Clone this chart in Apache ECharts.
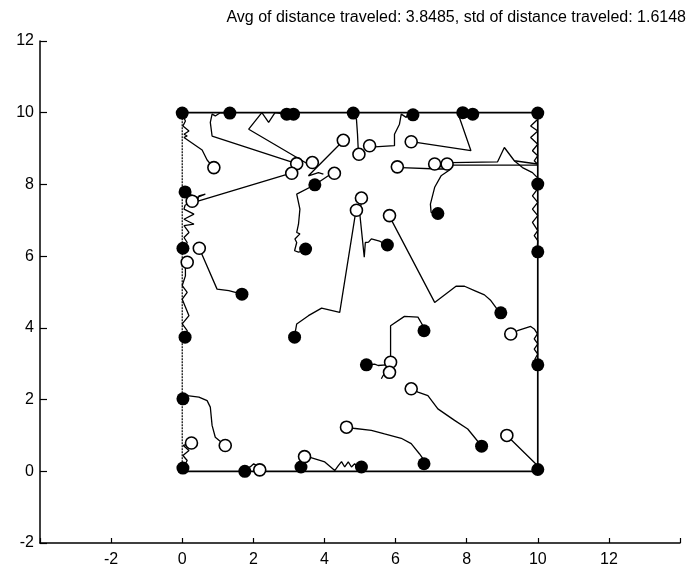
<!DOCTYPE html>
<html><head><meta charset="utf-8">
<script src="https://cdn.jsdelivr.net/npm/echarts@6/dist/echarts.min.js"></script>
<style>html,body{margin:0;padding:0;background:#fff}#c{width:692px;height:572px}</style>
</head><body><div id="c"></div>
<script>
const titleText = 'Avg of distance traveled: 3.8485, std of distance traveled: 1.6148';
const xTicks = [-2, 0, 2, 4, 6, 8, 10, 12];
const yTicks = [-2, 0, 2, 4, 6, 8, 10, 12];
const arena = [[0,10],[10,10],[10,0],[0,0]];
const arenaLeft = [[0,0],[0,10]];

const path1 = [[0.00,9.96],[0.09,9.77],[0.02,9.63],[0.19,9.49],[0.05,9.40],[0.14,9.35],[0.05,9.31],[0.56,8.96],[0.70,8.68],[0.82,8.54]];
const path2 = [[1.34,9.99],[1.07,10.0],[0.93,9.91],[0.84,9.96],[0.79,9.73],[0.84,9.35],[3.13,8.61]];
const path3 = [[2.94,9.96],[2.75,9.98],[2.61,10.0],[2.43,9.73],[2.24,10.0],[1.87,9.54],[3.57,8.55]];
const path4 = [[2.97,8.29],[0.42,7.53],[0.47,7.68],[0.65,7.73],[0.70,7.68],[0.42,7.64],[0.19,7.73],[0.08,7.79]];
const path5 = [[4.43,9.12],[3.55,8.24],[3.83,8.33],[3.97,8.29]];
const path6 = [[4.15,8.27],[3.73,7.99],[3.22,7.73],[3.31,7.31],[3.27,6.89],[3.22,6.66],[3.31,6.62],[3.17,6.48],[3.22,6.38],[3.16,6.15],[3.27,6.11],[3.41,6.15]];
const path8 = [[4.81,9.96],[4.90,9.82],[4.93,9.40],[4.95,8.98]];
const path9 = [[5.41,9.05],[5.97,9.08],[5.97,9.40],[6.11,9.68],[6.16,9.96],[6.30,9.87],[6.35,9.96],[6.49,9.94]];
const path10 = [[6.58,9.17],[8.12,8.94],[7.75,10.0]];
const path11 = [[9.99,9.96],[10.0,9.82],[9.80,9.63],[10.0,9.49],[9.80,9.31],[10.0,9.12],[9.85,8.94],[10.0,8.80],[9.90,8.66],[9.99,8.57]];
const path12 = [[7.56,8.61],[8.87,8.63],[9.06,9.03],[9.10,9.03],[9.34,8.66],[9.99,8.57]];
const path12b = [[7.56,8.54],[9.99,8.54]];
const path13 = [[9.34,8.66],[9.57,8.47],[9.85,8.33],[9.99,8.19],[9.99,8.01]];
const path14 = [[6.16,8.47],[7.19,8.43],[7.56,8.43],[7.28,8.24],[7.10,7.92],[6.98,7.45],[7.00,7.22],[7.19,7.19]];
const path15 = [[4.87,7.17],[4.43,4.43],[3.92,4.55],[3.55,4.34],[3.22,4.11],[3.17,3.83]];
const path16 = [[5.04,7.51],[4.99,7.22],[5.12,5.97],[5.15,6.38],[5.24,6.39],[5.32,6.48],[5.55,6.42],[5.77,6.31]];
const path17 = [[5.83,7.11],[7.10,4.71],[7.70,5.16],[7.94,5.16],[8.22,5.04],[8.50,4.92],[8.68,4.76],[8.82,4.57],[8.96,4.42]];
const path18 = [[5.86,3.04],[5.86,4.06],[6.25,4.32],[6.63,4.30],[6.77,4.06],[6.80,3.92]];
const path19 = [[5.18,2.97],[5.41,2.99],[5.51,2.95],[5.74,2.97],[5.83,2.86],[5.74,2.80],[5.65,2.67],[5.60,2.58]];
const path20 = [[6.44,2.30],[6.63,2.21],[6.91,2.11],[7.19,1.74],[7.66,1.42],[8.03,1.18],[8.22,0.95],[8.42,0.70]];
const path21 = [[4.62,1.23],[4.81,1.20],[5.32,1.14],[5.69,1.04],[6.16,0.92],[6.44,0.77],[6.67,0.49],[6.77,0.35],[6.80,0.21]];
const path22 = [[9.13,1.00],[9.99,0.16],[9.99,0.05]];
const path23 = [[9.24,3.83],[9.43,3.92],[9.80,4.04],[9.90,3.97],[9.99,3.83],[9.90,3.69],[10.0,3.55],[9.90,3.41],[10.0,3.27],[9.92,3.13],[10.0,2.97]];
const path24 = [[0.02,2.02],[0.14,2.11],[0.47,2.07],[0.70,1.97],[0.79,1.79],[0.84,1.28],[0.93,0.95],[1.21,0.72]];
const path25 = [[0.26,0.79],[0.03,0.72],[0.19,0.58],[0.02,0.44],[0.14,0.30],[0.02,0.09]];
const path26 = [[1.76,0.00],[1.77,0.07],[1.91,0.12],[2.01,0.21],[2.10,0.16],[2.18,0.04]];
const path27 = [[3.44,0.41],[3.55,0.40],[4.01,0.26],[4.29,0.02],[4.39,0.16],[4.48,0.27],[4.57,0.12],[4.67,0.26],[4.76,0.12],[4.85,0.21],[4.95,0.12],[5.04,0.12]];
const path28 = [[0.48,6.22],[0.98,5.08],[1.31,5.04],[1.34,4.99],[1.68,4.94]];
const path29 = [[0.14,5.83],[0.09,5.70],[0.09,5.45],[0.00,5.18],[0.14,4.99],[0.00,4.80],[0.19,4.34],[0.00,4.11],[0.14,3.92],[0.08,3.74]];
const path30 = [[0.28,7.53],[0.08,7.42],[0.05,7.31],[0.33,7.17],[0.05,7.03],[0.33,6.89],[0.05,6.85],[0.19,6.66],[0.05,6.52],[0.14,6.38],[0.02,6.22]];
const path31 = [[9.99,7.87],[9.85,7.68],[10.0,7.50],[9.85,7.31],[10.0,7.13],[9.85,6.94],[10.0,6.71],[9.90,6.57],[10.0,6.43],[9.99,6.29],[9.99,6.12]];

const startPoints = [[0.89,8.47],[3.22,8.58],[3.66,8.61],[3.08,8.31],[4.53,9.23],[4.28,8.31],[0.28,7.53],[4.97,8.84],[5.27,9.08],[6.44,9.19],[6.05,8.49],[7.10,8.57],[7.45,8.57],[5.04,7.62],[4.90,7.28],[5.83,7.13],[0.48,6.22],[0.14,5.83],[9.24,3.83],[5.86,3.04],[5.83,2.76],[6.44,2.30],[4.62,1.23],[9.13,1.00],[1.21,0.72],[0.26,0.79],[2.18,0.04],[3.44,0.41]];
const endPoints = [[0,9.99],[1.34,9.99],[2.94,9.96],[3.13,9.96],[4.81,9.99],[6.49,9.94],[7.89,10.0],[8.17,9.96],[10,9.99],[3.73,7.99],[0.08,7.79],[7.19,7.19],[10,8.01],[3.47,6.20],[5.77,6.31],[0.02,6.22],[10,6.12],[1.68,4.94],[8.96,4.42],[3.16,3.74],[0.08,3.74],[6.80,3.92],[5.18,2.97],[10,2.97],[0.02,2.02],[8.42,0.70],[6.80,0.21],[10,0.05],[0.02,0.09],[1.76,0.0],[3.34,0.12],[5.04,0.12]];

const paths = [path1,path2,path3,path4,path5,path6,path8,path9,path10,path11,path12,path12b,path13,path14,path15,path16,path17,path18,path19,path20,path21,path22,path23,path24,path25,path26,path27,path28,path29,path30,path31];

const FONT = '"Liberation Sans", Arial, Helvetica, sans-serif';
const chart = echarts.init(document.getElementById('c'), null, {renderer: 'canvas'});
const series = [];
series.push({type:'line', data: arena, showSymbol:false, lineStyle:{color:'#000', width:1.7}, z:2, silent:true, animation:false});
series.push({type:'line', data: arenaLeft, showSymbol:false, lineStyle:{color:'#000', width:1.2, type:[2,1]}, z:2, silent:true, animation:false});
paths.forEach(p => series.push({type:'line', data:p, showSymbol:false, lineStyle:{color:'#000', width:1.3}, z:3, silent:true, animation:false}));
series.push({type:'scatter', data:endPoints, symbol:'circle', symbolSize:13, itemStyle:{color:'#000', opacity:1}, z:5, animation:false});
series.push({type:'scatter', data:startPoints, symbol:'circle', symbolSize:12, itemStyle:{color:'#fff', borderColor:'#000', borderWidth:1.6, opacity:1}, z:6, animation:false});

chart.setOption({
  backgroundColor:'#fff',
  animation:false,
  title:{text:titleText, right:1, top:5, textStyle:{fontFamily:FONT, fontSize:16, fontWeight:'normal', color:'#000'}},
  grid:{left:40, right:12, top:41, bottom:29, containLabel:false},
  xAxis:{type:'value', min:-4, max:14, interval:2, splitLine:{show:false},
    axisLine:{onZero:false, lineStyle:{color:'#000', width:1.5}},
    axisTick:{inside:true, length:5, lineStyle:{color:'#000', width:1.2}},
    axisLabel:{margin:9, fontFamily:FONT, fontSize:16, color:'#000',
      formatter: v => xTicks.includes(v) ? String(v) : ''}},
  yAxis:{type:'value', min:-2, max:12, interval:2, splitLine:{show:false},
    axisLine:{onZero:false, lineStyle:{color:'#000', width:1.5}},
    axisTick:{inside:true, length:7, lineStyle:{color:'#000', width:1.2}},
    axisLabel:{margin:6, fontFamily:FONT, fontSize:16, color:'#000',
      formatter: v => yTicks.includes(v) ? String(v) : ''}},
  series: series
});
</script></body></html>
